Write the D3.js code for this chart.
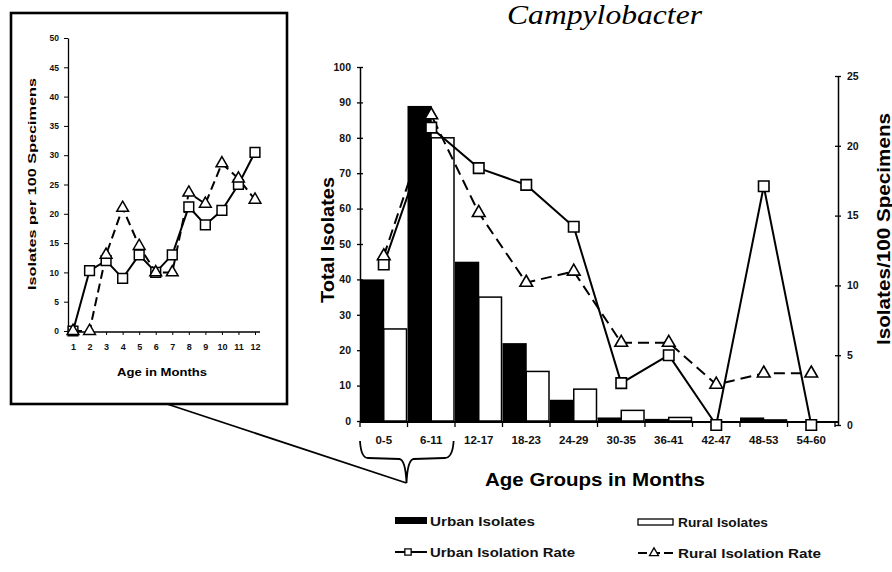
<!DOCTYPE html>
<html><head><meta charset="utf-8">
<script src="https://cdn.jsdelivr.net/npm/d3@7"></script>
<style>body{margin:0;background:#fff}</style>
</head><body>
<svg id="c" width="892" height="572"></svg>
<script>
// ---------- data ----------
const categories = ["0-5","6-11","12-17","18-23","24-29","30-35","36-41","42-47","48-53","54-60"];
const urbanIsolates = [40, 89, 45, 22, 6, 1, 0.6, 0, 1, 0];
const ruralIsolates = [26, 80, 35, 14, 9, 3, 1, 0, 0.3, 0];
const urbanRate = [11.5, 21.3, 18.4, 17.2, 14.2, 3.0, 5.0, 0, 17.1, 0];
const ruralRate = [12.1, 22.2, 15.2, 10.2, 11.0, 5.9, 5.9, 2.9, 3.7, 3.7];
const leftTicks = [0,10,20,30,40,50,60,70,80,90,100];
const rightTicks = [0,5,10,15,20,25];

const months = [1,2,3,4,5,6,7,8,9,10,11,12];
const insetUrban = [0, 10.3, 12, 9, 13, 10, 13, 21.2, 18.1, 20.6, 25, 30.5];
const insetRural = [0, 0, 13, 21, 14.5, 10, 10, 23.6, 21.7, 28.6, 26, 22.4];
const insetTicks = [0,5,10,15,20,25,30,35,40,45,50];

const legendItems = ["Urban Isolates","Rural Isolates","Urban Isolation Rate","Rural Isolation Rate"];

// ---------- setup ----------
const svg = d3.select("#c");
const FONT = "'Liberation Sans', Arial, Helvetica, sans-serif";
svg.append("rect").attr("width",892).attr("height",572).attr("fill","#fff");

// title
svg.append("text").attr("x",507).attr("y",24)
  .attr("font-family","'Liberation Serif','Times New Roman',serif")
  .attr("font-style","italic").attr("font-size",27)
  .attr("textLength",195).attr("lengthAdjust","spacingAndGlyphs")
  .text("Campylobacter");

// ---------- main chart ----------
const x = d3.scaleBand().domain(categories).range([360, 835]).padding(0);
const bw = x.bandwidth();
const yL = d3.scaleLinear().domain([0,100]).range([421,67]);
const yR = d3.scaleLinear().domain([0,25]).range([425,76]);
const main = svg.append("g");

// bars
main.selectAll(".ub").data(categories).enter().append("rect")
  .attr("x",d=>x(d)).attr("width",bw/2+0.5)
  .attr("y",(d,i)=>yL(urbanIsolates[i])).attr("height",(d,i)=>yL(0)-yL(urbanIsolates[i]))
  .attr("fill","#000");
main.selectAll(".rb").data(categories).enter().append("rect")
  .attr("x",d=>x(d)+bw/2).attr("width",bw/2-1)
  .attr("y",(d,i)=>yL(ruralIsolates[i])).attr("height",(d,i)=>yL(0)-yL(ruralIsolates[i]))
  .attr("fill","#fff").attr("stroke","#000").attr("stroke-width",1.5);

// axes
function crossTicks(g){
  g.selectAll(".tick line").attr("x1",-3).attr("x2",3).attr("stroke-width",1.3);
  g.select(".domain").attr("stroke-width",1.5);
  g.selectAll("text").attr("font-family",FONT).attr("font-weight","bold").attr("font-size",10.5).attr("fill","#111");
}
const gl = main.append("g").attr("transform","translate(360,0)")
  .call(d3.axisLeft(yL).tickValues(leftTicks).tickSizeInner(3).tickSizeOuter(0).tickPadding(6));
crossTicks(gl);
const gr = main.append("g").attr("transform","translate(838,0)")
  .call(d3.axisRight(yR).tickValues(rightTicks).tickSizeInner(3).tickSizeOuter(0).tickPadding(6));
crossTicks(gr);

// x axis
main.append("line").attr("x1",360).attr("x2",838).attr("y1",422).attr("y2",422)
  .attr("stroke","#000").attr("stroke-width",1.8);
const bounds = categories.map(c=>x(c)).concat([x.range()[1]]);
main.selectAll(".xt").data(bounds).enter().append("line")
  .attr("x1",d=>d).attr("x2",d=>d).attr("y1",422).attr("y2",427)
  .attr("stroke","#000").attr("stroke-width",1.3);
const gx = main.append("g").attr("transform","translate(0,422)")
  .call(d3.axisBottom(x).tickSize(0).tickPadding(14));
gx.select(".domain").remove();
gx.selectAll("text").attr("font-family",FONT).attr("font-weight","bold").attr("font-size",11.5).attr("fill","#111");

// axis titles
main.append("text").attr("transform","translate(327,240) rotate(-90)")
  .attr("text-anchor","middle").attr("dominant-baseline","central")
  .attr("font-family",FONT).attr("font-weight","bold").attr("font-size",19)
  .attr("textLength",126).attr("lengthAdjust","spacingAndGlyphs").text("Total Isolates");
main.append("text").attr("transform","translate(883,229) rotate(-90)")
  .attr("text-anchor","middle").attr("dominant-baseline","central")
  .attr("font-family",FONT).attr("font-weight","bold").attr("font-size",19)
  .attr("textLength",232).attr("lengthAdjust","spacingAndGlyphs").text("Isolates/100 Specimens");
main.append("text").attr("x",595).attr("y",479)
  .attr("text-anchor","middle").attr("dominant-baseline","central")
  .attr("font-family",FONT).attr("font-weight","bold").attr("font-size",19)
  .attr("textLength",220).attr("lengthAdjust","spacingAndGlyphs").text("Age Groups in Months");

// lines
const cx = c => x(c)+bw/2;
main.append("path").datum(categories)
  .attr("d",d3.line().x(cx).y((d,i)=>yR(ruralRate[i])))
  .attr("fill","none").attr("stroke","#000").attr("stroke-width",2).attr("stroke-dasharray","11,6");
main.append("path").datum(categories)
  .attr("d",d3.line().x(cx).y((d,i)=>yR(urbanRate[i])))
  .attr("fill","none").attr("stroke","#000").attr("stroke-width",2);
const sq = d3.symbol().type(d3.symbolSquare).size(110);
const tri = d3.symbol().type(d3.symbolTriangle).size(70);
main.selectAll(".us").data(categories).enter().append("path")
  .attr("d",sq).attr("transform",(d,i)=>`translate(${cx(d)},${yR(urbanRate[i])})`)
  .attr("fill","#fff").attr("stroke","#000").attr("stroke-width",1.6);
main.selectAll(".rt").data(categories).enter().append("path")
  .attr("d",tri).attr("transform",(d,i)=>`translate(${cx(d)},${yR(ruralRate[i])})`)
  .attr("fill","#fff").attr("stroke","#000").attr("stroke-width",1.6);

// brace and zoom line
const bx0 = x(categories[0]), bx1 = x(categories[1])+bw*0.95, bmid = x(categories[1])-2;
svg.append("path")
  .attr("d",`M${bx0},441 Q${bx0+1},458 ${bx0+8},458 L${bmid-6},459 Q${bmid},460 ${bmid+1},483 Q${bmid+2},460 ${bmid+8},459 L${bx1-8},458 Q${bx1},458 ${bx1+1},441`)
  .attr("fill","none").attr("stroke","#000").attr("stroke-width",1.8);
svg.append("line").attr("x1",167).attr("y1",404).attr("x2",bmid+1).attr("y2",483)
  .attr("stroke","#000").attr("stroke-width",1.8);

// ---------- inset ----------
const inset = svg.append("g");
inset.append("rect").attr("x",11).attr("y",13).attr("width",276).attr("height",391)
  .attr("fill","#fff").attr("stroke","#000").attr("stroke-width",2.6);
const xi = d3.scaleLinear().domain([1,12]).range([73,255]);
const yi = d3.scaleLinear().domain([0,50]).range([331,38]);
const giy = inset.append("g").attr("transform","translate(68,0)")
  .call(d3.axisLeft(yi).tickValues(insetTicks).tickSizeInner(4).tickSizeOuter(0).tickPadding(5));
giy.select(".domain").attr("stroke-width",1.3);
giy.selectAll("text").attr("font-family",FONT).attr("font-weight","bold").attr("font-size",8.5).attr("fill","#111");
inset.append("line").attr("x1",68).attr("x2",260).attr("y1",332).attr("y2",332).attr("stroke","#000").attr("stroke-width",1.5);
const gix = inset.append("g").attr("transform","translate(0,332)")
  .call(d3.axisBottom(xi).tickValues(months).tickSizeInner(3).tickSizeOuter(0).tickPadding(9).tickFormat(d3.format("d")));
gix.select(".domain").remove();
gix.selectAll("text").attr("font-family",FONT).attr("font-weight","bold").attr("font-size",9).attr("fill","#111");
inset.append("text").attr("transform","translate(32,184) rotate(-90)")
  .attr("text-anchor","middle").attr("dominant-baseline","central")
  .attr("font-family",FONT).attr("font-weight","bold").attr("font-size",11.5)
  .attr("textLength",212).attr("lengthAdjust","spacingAndGlyphs").text("Isolates per 100 Specimens");
inset.append("text").attr("x",162).attr("y",372)
  .attr("text-anchor","middle").attr("dominant-baseline","central")
  .attr("font-family",FONT).attr("font-weight","bold").attr("font-size",11.5)
  .attr("textLength",90).attr("lengthAdjust","spacingAndGlyphs").text("Age in Months");
inset.append("path").datum(months)
  .attr("d",d3.line().x(d=>xi(d)).y((d,i)=>yi(insetRural[i])))
  .attr("fill","none").attr("stroke","#000").attr("stroke-width",2).attr("stroke-dasharray","9,5");
inset.append("path").datum(months)
  .attr("d",d3.line().x(d=>xi(d)).y((d,i)=>yi(insetUrban[i])))
  .attr("fill","none").attr("stroke","#000").attr("stroke-width",2);
const sqi = d3.symbol().type(d3.symbolSquare).size(95);
const trii = d3.symbol().type(d3.symbolTriangle).size(60);
inset.selectAll(".ius").data(months).enter().append("path")
  .attr("d",sqi).attr("transform",(d,i)=>`translate(${xi(d)},${yi(insetUrban[i])})`)
  .attr("fill","#fff").attr("stroke","#000").attr("stroke-width",1.5);
inset.selectAll(".irt").data(months).enter().append("path")
  .attr("d",trii).attr("transform",(d,i)=>`translate(${xi(d)},${yi(insetRural[i])})`)
  .attr("fill","#fff").attr("stroke","#000").attr("stroke-width",1.5);

// ---------- legend ----------
const leg = svg.append("g");
const legPos = [
  {sx:395, tx:430, y:521, len:105},
  {sx:638, tx:678, y:522, len:90},
  {sx:395, tx:430, y:552, len:145},
  {sx:638, tx:678, y:553, len:143}
];
leg.append("rect").attr("x",legPos[0].sx).attr("y",legPos[0].y-4).attr("width",32).attr("height",7).attr("fill","#000");
leg.append("rect").attr("x",legPos[1].sx).attr("y",legPos[1].y-3).attr("width",35).attr("height",6)
  .attr("fill","#fff").attr("stroke","#000").attr("stroke-width",1.3);
leg.append("line").attr("x1",legPos[2].sx).attr("x2",legPos[2].sx+32).attr("y1",legPos[2].y).attr("y2",legPos[2].y)
  .attr("stroke","#000").attr("stroke-width",2);
leg.append("path").attr("d",d3.symbol().type(d3.symbolSquare).size(40))
  .attr("transform",`translate(${legPos[2].sx+13},${legPos[2].y})`).attr("fill","#fff").attr("stroke","#000").attr("stroke-width",1.3);
leg.append("line").attr("x1",legPos[3].sx).attr("x2",legPos[3].sx+36).attr("y1",legPos[3].y).attr("y2",legPos[3].y)
  .attr("stroke","#000").attr("stroke-width",2).attr("stroke-dasharray","9,4");
leg.append("path").attr("d",d3.symbol().type(d3.symbolTriangle).size(35))
  .attr("transform",`translate(${legPos[3].sx+16},${legPos[3].y})`).attr("fill","#fff").attr("stroke","#000").attr("stroke-width",1.3);
leg.selectAll(".lt").data(legendItems).enter().append("text")
  .attr("x",(d,i)=>legPos[i].tx).attr("y",(d,i)=>legPos[i].y)
  .attr("dominant-baseline","central")
  .attr("font-family",FONT).attr("font-weight","bold").attr("font-size",13)
  .attr("textLength",(d,i)=>legPos[i].len).attr("lengthAdjust","spacingAndGlyphs")
  .attr("fill","#111").text(d=>d);
</script>
</body></html>
